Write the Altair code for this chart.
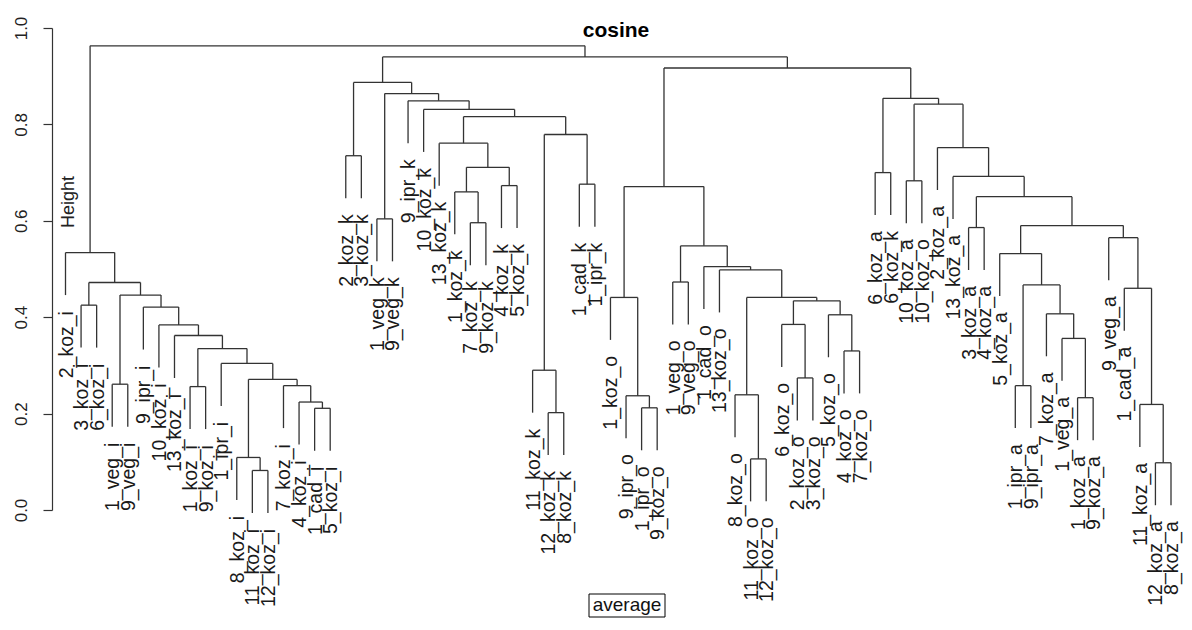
import altair as alt
import pandas as pd

# ---- data -------------------------------------------------------------
leaves = [
    "2_koz_i", "3_koz_i", "6_koz_i", "1_veg_i", "9_veg_i", "9_ipr_i", "10_koz_i", "13_koz_i",
    "1_koz_i", "9_koz_i", "1_ipr_i", "8_koz_i", "11_koz_i", "12_koz_i", "7_koz_i", "4_koz_i",
    "1_cad_i", "5_koz_i",
    "2_koz_k", "3_koz_k", "1_veg_k", "9_veg_k", "9_ipr_k", "10_koz_k", "13_koz_k", "1_koz_k",
    "7_koz_k", "9_koz_k", "4_koz_k", "5_koz_k", "11_koz_k", "12_koz_k", "8_koz_k", "1_cad_k",
    "1_ipr_k",
    "1_koz_o", "9_ipr_o", "1_ipr_o", "9_koz_o", "1_veg_o", "9_veg_o", "1_cad_o", "13_koz_o",
    "8_koz_o", "11_koz_o", "12_koz_o", "6_koz_o", "2_koz_o", "3_koz_o", "5_koz_o", "4_koz_o",
    "7_koz_o",
    "6_koz_a", "6_koz_k", "10_koz_a", "10_koz_o", "2_koz_a", "13_koz_a", "3_koz_a", "4_koz_a",
    "5_koz_a", "1_ipr_a", "9_ipr_a", "7_koz_a", "1_veg_a", "1_koz_a", "9_koz_a", "9_veg_a",
    "1_cad_a", "11_koz_a", "12_koz_a", "8_koz_a",
]

# merges: "#n" refers to the n-th merge (0-based), other names are leaves
merge_left = [
    "11_koz_i", "8_koz_i", "1_cad_i", "4_koz_i", "7_koz_i", "1_koz_i", "1_veg_i", "#1",
    "1_ipr_i", "#5", "13_koz_i", "10_koz_i", "9_ipr_i", "3_koz_i", "#6", "#13", "2_koz_i",
    "12_koz_k", "11_koz_k", "7_koz_k", "1_veg_k", "1_koz_k", "4_koz_k", "1_cad_k", "#21",
    "2_koz_k", "13_koz_k", "#18", "#26", "10_koz_k", "9_ipr_k", "#20", "#25",
    "11_koz_o", "1_ipr_o", "9_ipr_o", "8_koz_o", "2_koz_o", "4_koz_o", "6_koz_o", "5_koz_o",
    "#39", "#36", "1_koz_o", "1_veg_o", "13_koz_o", "1_cad_o", "#44", "#43",
    "12_koz_a", "11_koz_a", "1_koz_a", "1_ipr_a", "1_veg_a", "7_koz_a", "1_cad_a", "#52",
    "5_koz_a", "9_veg_a", "3_koz_a", "#57", "#59", "10_koz_a", "13_koz_a", "6_koz_a",
    "2_koz_a", "#62", "#64",
    "#48", "#32", "#16",
]
merge_right = [
    "12_koz_i", "#0", "5_koz_i", "#2", "#3", "9_koz_i", "9_veg_i", "#4",
    "#7", "#8", "#9", "#10", "#11", "6_koz_i", "#12", "#14", "#15",
    "8_koz_k", "#17", "9_koz_k", "9_veg_k", "#19", "5_koz_k", "1_ipr_k", "#22",
    "3_koz_k", "#24", "#23", "#27", "#28", "#29", "#30", "#31",
    "12_koz_o", "9_koz_o", "#34", "#33", "3_koz_o", "7_koz_o", "#37", "#38",
    "#40", "#41", "#35", "9_veg_o", "#42", "#45", "#46", "#47",
    "8_koz_a", "#49", "9_koz_a", "9_ipr_a", "#51", "#53", "#50", "#54",
    "#56", "#55", "4_koz_a", "#58", "#60", "10_koz_o", "#61", "6_koz_k",
    "#63", "#65", "#66",
    "#67", "#68", "#69",
]
merge_height = [
    0.082, 0.109, 0.211, 0.224, 0.258, 0.256, 0.261, 0.271,
    0.304, 0.335, 0.362, 0.384, 0.421, 0.425, 0.446, 0.472, 0.534,
    0.202, 0.290, 0.596, 0.604, 0.660, 0.673, 0.676, 0.711,
    0.735, 0.761, 0.779, 0.816, 0.831, 0.849, 0.864, 0.887,
    0.106, 0.212, 0.237, 0.239, 0.274, 0.330, 0.385, 0.405,
    0.434, 0.441, 0.441, 0.473, 0.498, 0.505, 0.548, 0.671,
    0.098, 0.219, 0.233, 0.258, 0.356, 0.407, 0.460, 0.467,
    0.532, 0.565, 0.586, 0.590, 0.650, 0.683, 0.692, 0.700,
    0.752, 0.842, 0.854,
    0.917, 0.940, 0.963,
]

y_ticks = [0.0, 0.2, 0.4, 0.6, 0.8, 1.0]
title_text = "cosine"
y_title = "Height"
method_text = "average"

# ---- build dendrogram segments (R plot.hclust style) -----------------
pos = {name: i for i, name in enumerate(leaves)}
hang = 0.1 * (max(merge_height) - min(merge_height))
node_x = []
leaf_rows = []
seg_rows = []


def child(ref, h):
    if ref.startswith("#"):
        k = int(ref[1:])
        return node_x[k], merge_height[k]
    leaf_rows.append({"label": ref, "x": pos[ref], "y": h - hang})
    return pos[ref], h - hang


for l, r, h in zip(merge_left, merge_right, merge_height):
    xl, yl = child(l, h)
    xr, yr = child(r, h)
    node_x.append((xl + xr) / 2)
    seg_rows.append({"x": xl, "x2": xr, "y": h, "y2": h})
    seg_rows.append({"x": xl, "x2": xl, "y": h, "y2": yl})
    seg_rows.append({"x": xr, "x2": xr, "y": h, "y2": yr})

segs = pd.DataFrame(seg_rows)
labels = pd.DataFrame(leaf_rows)

W, H = 1128, 482
spacing = (1119 - 13.5) / (len(leaves) - 1)
xmin = -13.5 / spacing
xmax = xmin + W / spacing
xscale = alt.Scale(domain=[xmin, xmax], nice=False, zero=False)
yscale = alt.Scale(domain=[0, 1], nice=False, zero=False)

FONT = "Liberation Sans"
LINE = "#333333"

lines = alt.Chart(segs).mark_rule(color=LINE, strokeWidth=1.3).encode(
    x=alt.X("x:Q", scale=xscale, axis=None),
    x2="x2:Q",
    y=alt.Y(
        "y:Q",
        scale=yscale,
        axis=alt.Axis(
            values=y_ticks, format=".1f", labelAngle=270, labelAlign="center",
            labelBaseline="middle", labelPadding=22, tickSize=9, title=None,
            grid=False, domainColor=LINE, tickColor=LINE, labelColor="#222222",
            labelFont=FONT, labelFontSize=17, labelFlush=False, labelOverlap=False,
            domainWidth=1.2, tickWidth=1.2,
        ),
    ),
    y2="y2:Q",
)

leaf_text = alt.Chart(labels).mark_text(
    angle=270, align="right", baseline="middle", dx=-16, dy=1,
    font=FONT, fontSize=19.5, color="#1a1a1a",
).encode(
    x=alt.X("x:Q", scale=xscale),
    y=alt.Y("y:Q", scale=yscale),
    text="label:N",
)

title_df = pd.DataFrame({"t": [title_text]})
title = alt.Chart(title_df).mark_text(
    font=FONT, fontSize=21, fontWeight="bold", color="#000000",
    align="center", baseline="alphabetic",
).encode(x=alt.value(564), y=alt.value(9), text="t:N")

ytitle_df = pd.DataFrame({"t": [y_title]})
ytitle = alt.Chart(ytitle_df).mark_text(
    font=FONT, fontSize=18, color="#222222", angle=270,
    align="center", baseline="middle",
).encode(x=alt.value(17), y=alt.value(174), text="t:N")

method_df = pd.DataFrame({"t": [method_text]})
method = alt.Chart(method_df).mark_text(
    font=FONT, fontSize=19, color="#111111", align="center", baseline="alphabetic",
).encode(x=alt.value(575), y=alt.value(583), text="t:N")
box = alt.Chart(method_df).mark_rect(filled=False, stroke="#000000", strokeWidth=1).encode(
    x=alt.value(537), x2=alt.value(613), y=alt.value(566), y2=alt.value(589),
)

chart = alt.layer(lines, leaf_text, title, ytitle, box, method).properties(
    width=W, height=H,
    autosize=alt.AutoSizeParams(type="none"),
    padding={"left": 44, "top": 20, "right": 4, "bottom": 108},
    background="white",
).configure_view(stroke=None)

chart.save("out.html", embed_options={"renderer": "svg", "actions": False})
